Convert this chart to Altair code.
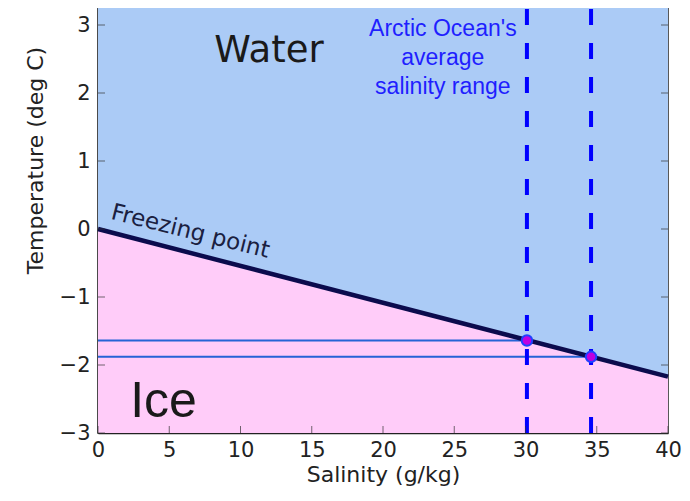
import altair as alt
import pandas as pd

# ---- data ----
salinity_ends = [0, 40]
freezing_temps = [0.0, -2.17]
y_bottom = -3.0
y_top = 3.25

arctic_salinity = [30.1, 34.6]
arctic_freezing = [-1.64, -1.88]

x_ticks = [0, 5, 10, 15, 20, 25, 30, 35, 40]
y_ticks = [-3, -2, -1, 0, 1, 2, 3]

W, H = 570, 425

line_df = pd.DataFrame({"S": salinity_ends, "T": freezing_temps,
                        "top": [y_top] * 2, "bot": [y_bottom] * 2})
arc_df = pd.DataFrame({"S": arctic_salinity, "T": arctic_freezing,
                       "S0": [0] * 2, "top": [y_top] * 2, "bot": [y_bottom] * 2})

xs = alt.Scale(domain=[0, 40], nice=False, zero=False)
ys = alt.Scale(domain=[y_bottom, y_top], nice=False, zero=False)

x_axis = alt.Axis(values=x_ticks, format="d", title="Salinity (g/kg)", grid=False,
                  tickSize=0, labelPadding=6, titlePadding=4, labelFlush=False,
                  labelFont="DejaVu Sans", labelFontSize=21, labelColor="#222222",
                  titleFont="DejaVu Sans", titleFontSize=22, titleColor="#222222",
                  titleFontWeight="normal", domainColor="#222222", domainWidth=1.5)
y_axis = alt.Axis(values=y_ticks, format="d", title="Temperature (deg C)", grid=False,
                  tickSize=0, labelPadding=8, titlePadding=12, labelFlush=False,
                  titleY=152,
                  labelFont="DejaVu Sans", labelFontSize=21, labelColor="#222222",
                  titleFont="DejaVu Sans", titleFontSize=22, titleColor="#222222",
                  titleFontWeight="normal", domainColor="#222222", domainWidth=1.5)

base = alt.Chart(line_df)

water = base.mark_area(color="#abcbf6", opacity=1).encode(
    x=alt.X("S:Q", scale=xs, axis=x_axis),
    y=alt.Y("T:Q", scale=ys, axis=y_axis),
    y2="top:Q",
)
ice = base.mark_area(color="#ffccf9", opacity=1).encode(
    x=alt.X("S:Q", scale=xs), y=alt.Y("T:Q", scale=ys), y2="bot:Q"
)
fline = base.mark_line(color="#0b0b4d", strokeWidth=4.5).encode(
    x=alt.X("S:Q", scale=xs), y=alt.Y("T:Q", scale=ys)
)

hlines = alt.Chart(arc_df).mark_rule(color="#2563d6", strokeWidth=2).encode(
    x=alt.X("S0:Q", scale=xs), x2="S:Q", y=alt.Y("T:Q", scale=ys)
)
vlines = alt.Chart(arc_df).mark_rule(color="#0000ff", strokeWidth=4,
                                     strokeDash=[16, 18]).encode(
    x=alt.X("S:Q", scale=xs), y=alt.Y("bot:Q", scale=ys), y2="top:Q"
)
pts = alt.Chart(arc_df).mark_point(filled=True, fill="#c000e0", stroke="#2040ff",
                                   strokeWidth=2, size=110, opacity=1).encode(
    x=alt.X("S:Q", scale=xs), y=alt.Y("T:Q", scale=ys)
)

# inward ticks
xt = pd.DataFrame({"v": x_ticks, "b": [y_bottom] * len(x_ticks)})
yt = pd.DataFrame({"v": y_ticks, "l": [0] * len(y_ticks), "r": [40] * len(y_ticks)})
xtick = alt.Chart(xt).mark_tick(orient="vertical", size=7, yOffset=-3.5,
                                color="#333333", thickness=1).encode(
    x=alt.X("v:Q", scale=xs), y=alt.Y("b:Q", scale=ys))
ytick_l = alt.Chart(yt).mark_tick(orient="horizontal", size=7, xOffset=3.5,
                                  color="#333333", thickness=1).encode(
    x=alt.X("l:Q", scale=xs), y=alt.Y("v:Q", scale=ys))
ytick_r = alt.Chart(yt).mark_tick(orient="horizontal", size=7, xOffset=-3.5,
                                  color="#333333", thickness=1).encode(
    x=alt.X("r:Q", scale=xs), y=alt.Y("v:Q", scale=ys))

water_txt = alt.Chart().mark_text(text="Water", font="DejaVu Sans", fontSize=37,
                                  color="#1a1a1a", align="center", baseline="middle").encode(
    x=alt.X(datum=12.0, scale=xs), y=alt.Y(datum=2.62, scale=ys))
ice_txt = alt.Chart().mark_text(text="Ice", font="Liberation Sans", fontSize=50,
                                color="#1a1a1a", align="center", baseline="middle").encode(
    x=alt.X(datum=4.6, scale=xs), y=alt.Y(datum=-2.55, scale=ys))
fp_txt = alt.Chart().mark_text(text="Freezing point", font="DejaVu Sans", fontSize=23,
                               color="#1a2040", align="left", baseline="bottom",
                               angle=14).encode(
    x=alt.X(datum=0.75, scale=xs), y=alt.Y(datum=0.08, scale=ys))
arctic_txt = alt.Chart().mark_text(text=["Arctic Ocean's", "average", "salinity range"],
                                   font="Liberation Sans", fontSize=23, lineHeight=29,
                                   color="#1f1fff", align="center", baseline="top").encode(
    x=alt.X(datum=24.2, scale=xs), y=alt.Y(datum=3.11, scale=ys))

chart = alt.layer(
    water, ice, hlines, vlines, fline, pts, xtick, ytick_l, ytick_r,
    water_txt, ice_txt, fp_txt, arctic_txt
).properties(
    width=W, height=H,
    background="white",
    autosize=alt.AutoSizeParams(type="none"),
    padding={"left": 90, "top": 0, "right": 14, "bottom": 60},
).configure_view(
    stroke="#222222", strokeWidth=1.5
)

chart.save("out.html", embed_options={"renderer": "svg", "actions": False})
